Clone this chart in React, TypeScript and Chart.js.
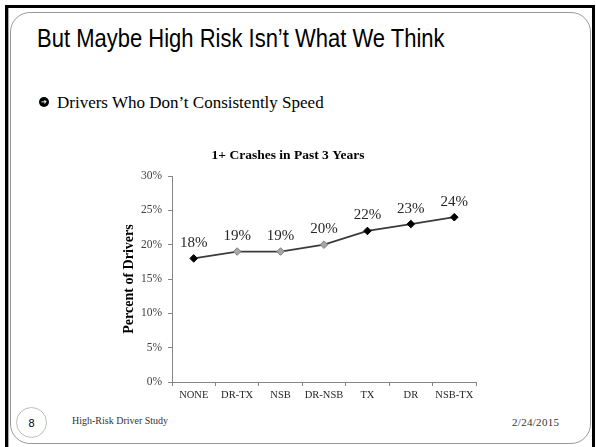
import React, { useEffect, useRef } from 'react';
import { Chart, registerables } from 'chart.js';

Chart.register(...registerables);

// Driver groups along the x axis and the share of drivers with 1+ crashes (%)
const categories = ['NONE', 'DR-TX', 'NSB', 'DR-NSB', 'TX', 'DR', 'NSB-TX'];
const crashPercent = [18, 19, 19, 20, 22, 23, 24];
// Groups drawn with a light grey marker
const shadedCategories = ['DR-TX', 'NSB', 'DR-NSB'];
// Y axis range and step (%)
const yMin = 0;
const yMax = 30;
const yStep = 5;

const SERIF = '"Liberation Serif", "Times New Roman", serif';
const SANS = '"Liberation Sans", Arial, sans-serif';

const isShaded = (i: number) => shadedCategories.includes(categories[i]);

// Writes each point's value above its marker
const valueLabels = {
  id: 'valueLabels',
  afterDatasetsDraw(chart: any) {
    const { ctx } = chart;
    const meta = chart.getDatasetMeta(0);
    const values = chart.data.datasets[0].data as number[];
    ctx.save();
    ctx.font = `15px ${SERIF}`;
    ctx.fillStyle = '#262626';
    ctx.textAlign = 'center';
    ctx.textBaseline = 'middle';
    meta.data.forEach((pt: any, i: number) => {
      ctx.fillText(`${values[i]}%`, pt.x, pt.y - 15.5);
    });
    ctx.restore();
  },
};

function CrashChart() {
  const ref = useRef<HTMLCanvasElement | null>(null);

  useEffect(() => {
    if (!ref.current) return;
    const chart = new Chart(ref.current, {
      type: 'line',
      data: {
        labels: categories,
        datasets: [
          {
            data: crashPercent,
            borderColor: '#3b3b3b',
            borderWidth: 1.75,
            tension: 0,
            pointStyle: 'rectRot',
            pointRadius: 3.8,
            pointBorderWidth: 1,
            pointBackgroundColor: (c: any) => (isShaded(c.dataIndex) ? '#a6a6a6' : '#000000'),
            pointBorderColor: (c: any) => (isShaded(c.dataIndex) ? '#7f7f7f' : '#000000'),
          },
        ],
      },
      options: {
        responsive: false,
        animation: false,
        devicePixelRatio: 1,
        layout: { padding: { left: 0, right: 14, top: 0, bottom: 0 } },
        plugins: {
          legend: { display: false },
          tooltip: { enabled: false },
          title: {
            display: true,
            text: '1+ Crashes in Past 3 Years',
            color: '#000000',
            font: { family: SERIF, size: 13.5, weight: 'bold', lineHeight: 1.2 },
            padding: { top: 7, bottom: 12.8 },
          },
        },
        scales: {
          x: {
            offset: true,
            grid: {
              offset: true,
              drawOnChartArea: false,
              drawTicks: true,
              tickLength: 4,
              color: '#868686',
            },
            border: { color: '#868686', width: 1 },
            ticks: {
              font: { family: SERIF, size: 10.5 },
              color: '#262626',
              padding: 3,
              maxRotation: 0,
              autoSkip: false,
            },
            afterFit: (s: any) => {
              s.height = 28;
            },
          },
          y: {
            min: yMin,
            max: yMax,
            ticks: {
              stepSize: yStep,
              callback: (v: any) => `${v}%`,
              font: { family: SERIF, size: 11.5 },
              color: '#404040',
              padding: 6,
            },
            grid: { drawOnChartArea: false, tickLength: 4, color: '#868686' },
            border: { color: '#868686', width: 1 },
            title: {
              display: true,
              text: 'Percent of Drivers',
              color: '#000000',
              font: { family: SERIF, size: 14, weight: 'bold' },
              padding: { top: 20.6, bottom: 0 },
            },
            afterFit: (s: any) => {
              s.width = 72;
            },
          },
        },
      } as any,
      plugins: [valueLabels],
    });
    return () => chart.destroy();
  }, []);

  return (
    <canvas
      ref={ref}
      width={390}
      height={270}
      style={{ position: 'absolute', left: 100, top: 140, width: 390, height: 270 }}
    />
  );
}

export default function App() {
  return (
    <div
      style={{
        position: 'absolute',
        left: 0,
        top: 0,
        width: 596,
        height: 447,
        background: '#ffffff',
        overflow: 'hidden',
      }}
    >
      {/* outer slide frame */}
      <div
        style={{
          position: 'absolute',
          left: 5,
          top: 5,
          width: 584,
          height: 470,
          borderTop: '3px solid #000',
          borderLeft: '3px solid #000',
          borderRight: '3px solid #000',
        }}
      />
      <div style={{ position: 'absolute', left: 8, top: 8, width: 1, height: 440, background: '#a8a8a8' }} />
      {/* rounded content panel */}
      <div
        style={{
          position: 'absolute',
          left: 10,
          top: 12,
          width: 581,
          height: 432,
          boxSizing: 'border-box',
          border: '1px solid #9a9a9a',
          borderRadius: 20,
        }}
      />

      {/* slide heading */}
      <div
        style={{
          position: 'absolute',
          left: 37,
          top: 26,
          fontFamily: SANS,
          fontSize: 25,
          lineHeight: '25px',
          whiteSpace: 'nowrap',
          color: '#000',
          transform: 'scaleX(0.88)',
          transformOrigin: 'left top',
        }}
      >
        But Maybe High Risk Isn’t What We Think
      </div>

      {/* bullet line */}
      <div
        style={{
          position: 'absolute',
          left: 39,
          top: 97,
          width: 10,
          height: 10,
          borderRadius: '50%',
          background: '#000',
          color: '#fff',
          fontFamily: '"DejaVu Sans", sans-serif',
          fontSize: 7,
          fontWeight: 'bold',
          lineHeight: '10px',
          textAlign: 'center',
        }}
      >
        ➜
      </div>
      <div
        style={{
          position: 'absolute',
          left: 57,
          top: 94,
          fontFamily: SERIF,
          fontSize: 17,
          lineHeight: '17px',
          whiteSpace: 'nowrap',
          color: '#000',
        }}
      >
        Drivers Who Don’t Consistently Speed
      </div>

      <CrashChart />

      {/* footer */}
      <div
        style={{
          position: 'absolute',
          left: 16,
          top: 407,
          width: 31,
          height: 31,
          boxSizing: 'border-box',
          border: '1px solid #bdbdbd',
          borderRadius: '50%',
          display: 'flex',
          alignItems: 'center',
          justifyContent: 'center',
          fontFamily: SANS,
          fontSize: 11,
          color: '#000',
        }}
      >
        8
      </div>
      <div
        style={{
          position: 'absolute',
          left: 72,
          top: 415,
          fontFamily: SERIF,
          fontSize: 10,
          lineHeight: '12px',
          whiteSpace: 'nowrap',
          color: '#333',
        }}
      >
        High-Risk Driver Study
      </div>
      <div
        style={{
          position: 'absolute',
          left: 512,
          top: 416,
          fontFamily: SERIF,
          fontSize: 11,
          letterSpacing: 0.3,
          lineHeight: '12px',
          whiteSpace: 'nowrap',
          color: '#333',
        }}
      >
        2/24/2015
      </div>
    </div>
  );
}
